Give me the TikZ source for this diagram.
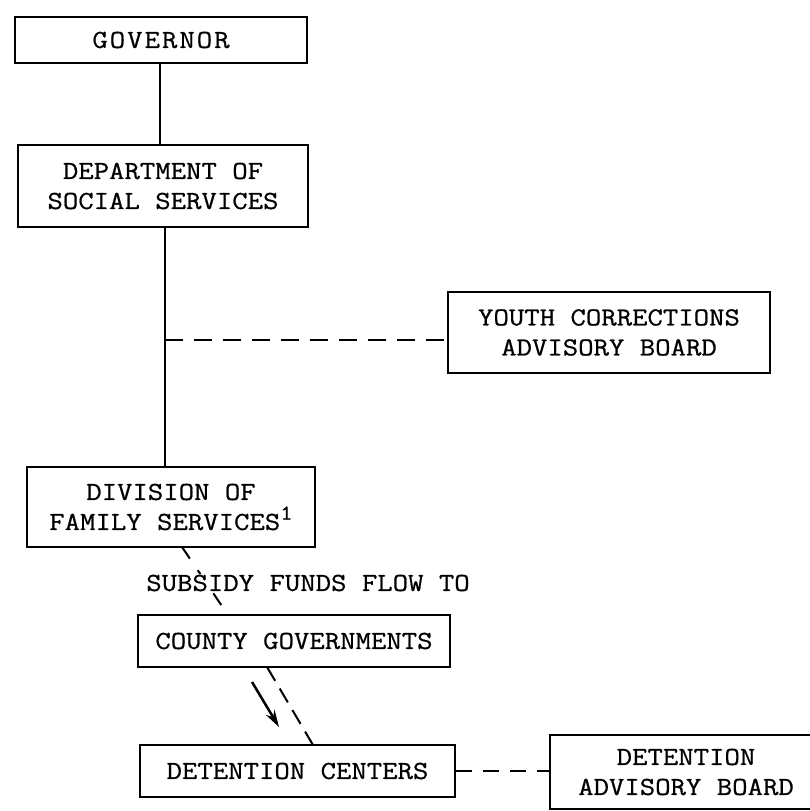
\documentclass[tikz,border=0pt]{standalone}
\usepackage{fontspec}
\usetikzlibrary{arrows.meta}
\newfontfamily\typewriter{Latin Modern Mono}[FakeStretch=1.15,FakeBold=0.7]
\begin{document}
\begin{tikzpicture}[x=1pt,y=-1pt,
  font=\typewriter\fontsize{26}{30}\selectfont,
  orgbox/.style={draw, line width=2pt, rectangle, align=center, inner sep=0pt,
                 minimum width=#1},
  link/.style={line width=2pt},
  dashlink/.style={line width=2pt, dash pattern=on 18pt off 11pt},
]
% page
\fill[white] (0,0) rectangle (810,811);
\useasboundingbox (0,0) rectangle (810,811);

% boxes of the chart
\node[orgbox=292pt, minimum height=46pt] (gov) at (161,40)
  {G\kern2pt O\kern2pt V\kern2pt E\kern2pt R\kern2pt N\kern2pt O\kern2pt R};
\node[orgbox=290pt, minimum height=82pt] (dss) at (163,186) {DEPARTMENT OF\\SOCIAL SERVICES};
\node[orgbox=322pt, minimum height=81pt] (youth) at (609,332.5) {YOUTH CORRECTIONS\\ADVISORY BOARD};
\node[orgbox=288pt, minimum height=80pt] (div) at (171,507)
  {DIVISION OF\\FAMILY SERVICES\raisebox{0.4em}{\fontsize{21}{21}\selectfont 1}};
\node[orgbox=312pt, minimum height=52pt] (county) at (294,641) {COUNTY GOVERNMENTS};
\node[orgbox=315pt, minimum height=52pt] (dc) at (297.5,771) {DETENTION CENTERS};
\begin{scope}
  \clip (0,0) rectangle (810,811);
  \node[orgbox=272pt, minimum height=74pt] (dab) at (686,772) {DETENTION\\ADVISORY BOARD};
\end{scope}

% chain of command
\draw[link] (gov.south -| 160,0) -- (dss.north -| 160,0);
\coordinate (br) at (165,340);
\draw[link] (dss.south -| br) -- (div.north -| br);
\draw[dashlink] (br) -- (br -| youth.west);

% subsidy flow
\coordinate (s1) at (182,547);
\coordinate (s2) at (228,615);
\draw[dashlink, dash pattern=on 14pt off 14pt] (s1) -- (s2);
\node[fill=white, inner sep=1pt] (subsidy) at (308,583) {SUBSIDY FUNDS FLOW TO};

\coordinate (c1) at (267,667);
\coordinate (c2) at (313,745);
\draw[dashlink, dash pattern=on 16pt off 9pt] (c1) -- (c2);
\coordinate (a1) at (252,682);
\coordinate (a2) at (279,727);
\draw[link, line width=2.5pt, -{Stealth[length=17pt, width=10pt]}] (a1) -- (a2);

\draw[dashlink, dash pattern=on 16pt off 11pt] (dc.east) -- (dc.east -| dab.west);
\end{tikzpicture}
\end{document}
